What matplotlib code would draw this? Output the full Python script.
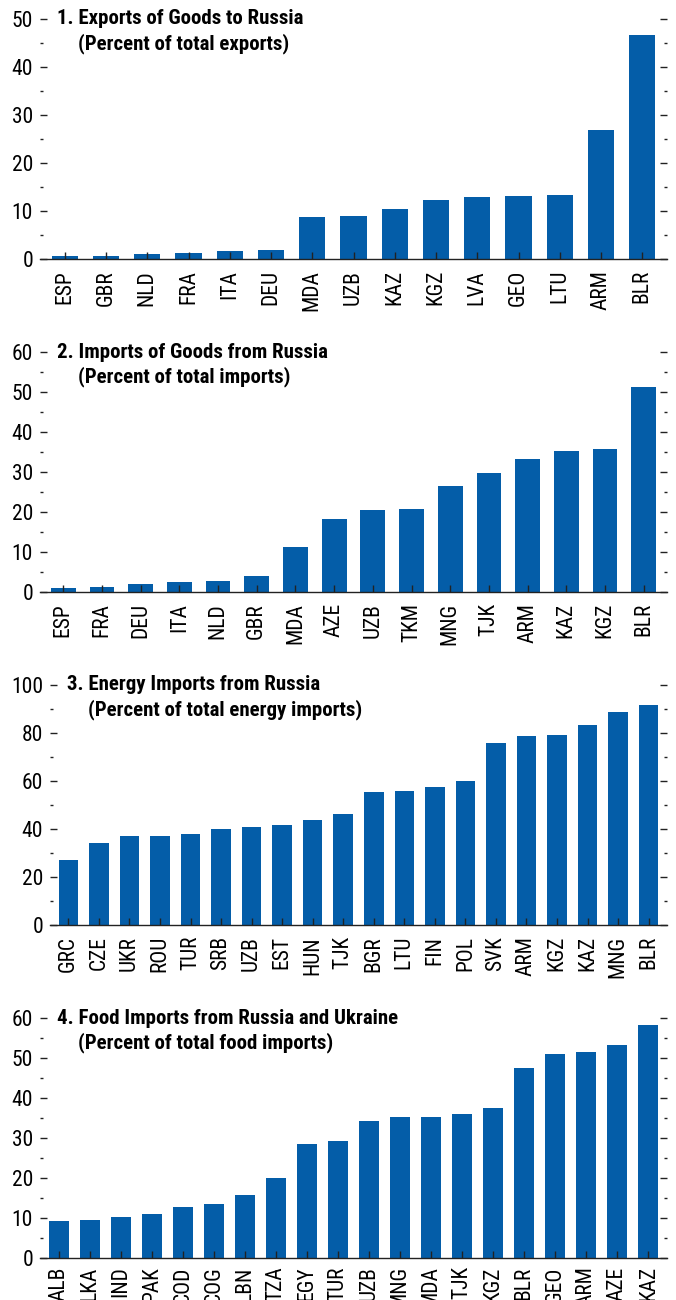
import matplotlib
matplotlib.use("Agg")
import matplotlib.pyplot as plt
from matplotlib.ticker import MultipleLocator

plt.rcParams['font.family'] = ['Roboto Condensed', 'IBM Plex Sans Condensed', 'DejaVu Sans']

# Panel 1: exports of goods to Russia
exp_codes = ["ESP", "GBR", "NLD", "FRA", "ITA", "DEU", "MDA", "UZB", "KAZ",
             "KGZ", "LVA", "GEO", "LTU", "ARM", "BLR"]
exp_vals = [0.6, 0.6, 1.0, 1.25, 1.7, 1.9, 8.75, 9.0, 10.4, 12.3, 12.9, 13.1,
            13.3, 26.9, 46.7]

# Panel 2: imports of goods from Russia
imp_codes = ["ESP", "FRA", "DEU", "ITA", "NLD", "GBR", "MDA", "AZE", "UZB",
             "TKM", "MNG", "TJK", "ARM", "KAZ", "KGZ", "BLR"]
imp_vals = [1.0, 1.25, 2.0, 2.5, 2.75, 4.0, 11.25, 18.25, 20.5, 20.75, 26.5,
            29.75, 33.25, 35.25, 35.75, 51.25]

# Panel 3: energy imports from Russia
nrg_codes = ["GRC", "CZE", "UKR", "ROU", "TUR", "SRB", "UZB", "EST", "HUN",
             "TJK", "BGR", "LTU", "FIN", "POL", "SVK", "ARM", "KGZ", "KAZ",
             "MNG", "BLR"]
nrg_vals = [27.1, 34.2, 37.1, 37.1, 37.9, 40.0, 40.8, 41.7, 43.75, 46.25,
            55.4, 55.8, 57.5, 60.0, 75.8, 78.75, 79.2, 83.3, 88.75, 91.7]

# Panel 4: food imports from Russia and Ukraine
food_codes = ["ALB", "LKA", "IND", "PAK", "COD", "COG", "LBN", "TZA", "EGY",
              "TUR", "UZB", "MNG", "MDA", "TJK", "KGZ", "BLR", "GEO", "ARM",
              "AZE", "KAZ"]
food_vals = [9.25, 9.5, 10.25, 11.0, 12.75, 13.5, 15.75, 20.0, 28.5, 29.25,
             34.25, 35.25, 35.25, 36.0, 37.5, 47.5, 51.0, 51.5, 53.25, 58.25]

panels = [
    ("1. Exports of Goods to Russia", "(Percent of total exports)",
     exp_codes, exp_vals, 50, 10, 5),
    ("2. Imports of Goods from Russia", "(Percent of total imports)",
     imp_codes, imp_vals, 60, 10, 5),
    ("3. Energy Imports from Russia", "(Percent of total energy imports)",
     nrg_codes, nrg_vals, 100, 20, 10),
    ("4. Food Imports from Russia and Ukraine", "(Percent of total food imports)",
     food_codes, food_vals, 60, 10, 5),
]

W, H = 676, 1300
# axes boxes in pixels: left, right, top, bottom
boxes = [(40, 667, 19, 259), (40, 667, 352, 592),
         (50, 667, 685, 925), (40, 667, 1018, 1258)]
label_pads = [8, 8, 8, 6]

BLUE = "#045DA8"
fig = plt.figure(figsize=(W / 100, H / 100), dpi=100)

for (t1, t2, codes, vals, ymax, major, minor), (l, r, t, b), lpad in zip(panels, boxes, label_pads):
    ax = fig.add_axes([l / W, 1 - b / H, (r - l) / W, (b - t) / H])
    x = range(len(codes))
    ax.bar(x, vals, width=0.64, color=BLUE, zorder=1)
    ax.set_xlim(-0.6, len(codes) - 0.4)
    ax.set_ylim(0, ymax)
    ax.yaxis.set_major_locator(MultipleLocator(major))
    ax.yaxis.set_minor_locator(MultipleLocator(minor))
    ax.set_xticks(list(x))
    ax.set_xticklabels(codes, rotation=90, fontsize=15.5)
    for s in ("left", "right", "top"):
        ax.spines[s].set_visible(False)
    ax.spines["bottom"].set_color("#222222")
    ax.spines["bottom"].set_linewidth(1.0)
    ax.tick_params(axis="y", which="both", direction="in", left=True,
                   right=True, labelsize=15.5, pad=5, color="#222222")
    ax.tick_params(axis="y", which="major", length=5, width=1)
    ax.tick_params(axis="y", which="minor", length=2.5, width=1)
    ax.tick_params(axis="x", direction="in", length=5, width=1,
                   color="#222222", pad=lpad)
    ax.annotate(t1, xy=(0, 1), xycoords="axes fraction", xytext=(12, 0),
                textcoords="offset points", ha="left", va="center",
                fontsize=15, fontweight="bold")
    ax.annotate(t2, xy=(0, 1), xycoords="axes fraction", xytext=(27, -17.5),
                textcoords="offset points", ha="left", va="center",
                fontsize=15, fontweight="bold")

fig.savefig("out.png", dpi=100)
